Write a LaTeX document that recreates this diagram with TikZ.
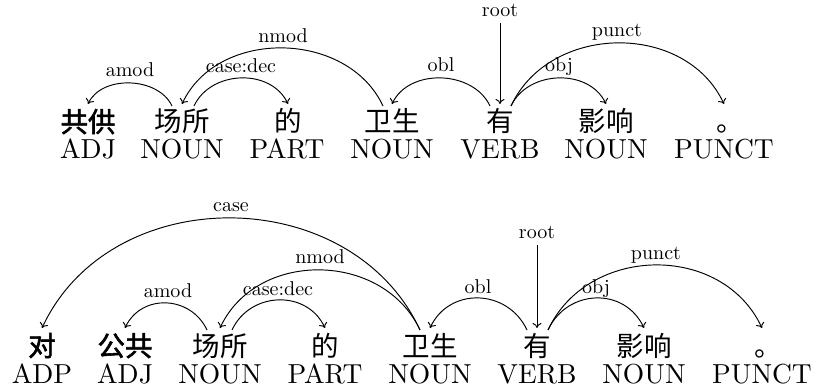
\documentclass[tikz,border=0pt]{standalone}
\usepackage{fontspec}
\setmainfont{lmroman10-regular}[Extension=.otf]
\newfontfamily\cjk{Noto Sans CJK SC}
\newfontfamily\cjkb{Noto Sans CJK SC}[FakeBold=2]
\usetikzlibrary{arrows.meta,calc}
\tikzset{
  word/.style={anchor=base, inner sep=0pt, font=\cjk\fontsize{27.5}{30}\selectfont},
  bword/.style={anchor=base, inner sep=0pt, font=\cjkb\fontsize{27.5}{30}\selectfont},
  postag/.style={anchor=base, inner sep=0pt, font=\fontsize{27.5}{30}\selectfont},
  lab/.style={anchor=base, inner sep=0pt, font=\fontsize{20}{22}\selectfont},
  dep/.style={line width=0.95pt, -{To[length=5pt,width=9pt]}},
}
\begin{document}
\begin{tikzpicture}[x=1pt,y=-1pt]
\useasboundingbox (0,0) rectangle (816,387);
% ---------- sentence 1 ----------
\node[bword] (a1) at (88,132) {共供};
\node[word]  (a2) at (182,132) {场所};
\node[word]  (a3) at (288,132) {的};
\node[word]  (a4) at (392,132) {卫生};
\node[word]  (a5) at (500,132) {有};
\node[word]  (a6) at (606,132) {影响};
\node[word]  (a7) at (730,132) {。};
\node[postag] (p1) at (88,159) {ADJ};
\node[postag] (p2) at (182,159) {NOUN};
\node[postag] (p3) at (287,159) {PART};
\node[postag] (p4) at (392,159) {NOUN};
\node[postag] (p5) at (500,159) {VERB};
\node[postag] (p6) at (606,159) {NOUN};
\node[postag] (p7) at (724,159) {PUNCT};
\coordinate (ra) at (500,23);
% amod
\draw[dep] ($(a2.base)+(-10,-26)$) .. controls +(-13.7,-29.3) and +(13.7,-29.3) .. ($(a1.base)+(0,-28)$);
\node[lab] (la1) at (130,77) {amod};
% case:dec
\draw[dep] ($(a2.base)+(12,-26)$) .. controls +(16.8,-36) and +(-16.8,-36) .. ($(a3.base)+(0,-28)$);
\node[lab] (la2) at (241,73) {case:dec};
% nmod
\draw[dep] ($(a4.base)+(-9,-26)$) .. controls +(-35.4,-76) and +(35.4,-76) .. ($(a2.base)+(0,-28)$);
\node[lab] (la3) at (283,43) {nmod};
% obl
\draw[dep] ($(a5.base)+(-10,-26)$) .. controls +(-16.8,-36) and +(16.8,-36) .. ($(a4.base)+(0,-28)$);
\node[lab] (la4) at (441,72) {obl};
% root
\draw[dep] (ra) -- ($(a5.base)+(0,-28)$);
\node[lab] (la5) at (500,17) {root};
% obj
\draw[dep] ($(a5.base)+(11,-26)$) .. controls +(16.8,-36) and +(-16.8,-36) .. ($(a6.base)+(0,-28)$);
\node[lab] (la6) at (559,72) {obj};
% punct
\draw[dep] ($(a5.base)+(11,-26)$) .. controls +(38.5,-82.7) and +(-38.5,-82.7) .. ($(a7.base)+(-6,-28)$);
\node[lab] (la7) at (617,37) {punct};
% ---------- sentence 2 ----------
\node[bword] (b1) at (42,356) {对};
\node[bword] (b2) at (125,356) {公共};
\node[word]  (b3) at (220,356) {场所};
\node[word]  (b4) at (325,356) {的};
\node[word]  (b5) at (430,356) {卫生};
\node[word]  (b6) at (537,356) {有};
\node[word]  (b7) at (644,356) {影响};
\node[word]  (b8) at (768,356) {。};
\node[postag] (q1) at (42,383) {ADP};
\node[postag] (q2) at (125,383) {ADJ};
\node[postag] (q3) at (220,383) {NOUN};
\node[postag] (q4) at (325,383) {PART};
\node[postag] (q5) at (430,383) {NOUN};
\node[postag] (q6) at (537,383) {VERB};
\node[postag] (q7) at (644,383) {NOUN};
\node[postag] (q8) at (762,383) {PUNCT};
\coordinate (rb) at (537,245);
% case
\draw[dep] ($(b5.base)+(-10,-26)$) .. controls +(-69,-148) and +(69,-148) .. ($(b1.base)+(0,-28)$);
\node[lab] (lb1) at (231,212) {case};
% nmod
\draw[dep] ($(b5.base)+(-10,-26)$) .. controls +(-36.7,-78.7) and +(36.7,-78.7) .. ($(b3.base)+(0,-28)$);
\node[lab] (lb2) at (320,264) {nmod};
% amod
\draw[dep] ($(b3.base)+(-13,-26)$) .. controls +(-16.2,-34.7) and +(16.2,-34.7) .. ($(b2.base)+(0,-28)$);
\node[lab] (lb3) at (168,297) {amod};
% case:dec
\draw[dep] ($(b3.base)+(12,-26)$) .. controls +(18,-38.7) and +(-18,-38.7) .. ($(b4.base)+(0,-28)$);
\node[lab] (lb4) at (278,295) {case:dec};
% obl
\draw[dep] ($(b6.base)+(-10,-26)$) .. controls +(-19.3,-41.3) and +(19.3,-41.3) .. ($(b5.base)+(0,-28)$);
\node[lab] (lb5) at (478,293) {obl};
% root
\draw[dep] (rb) -- ($(b6.base)+(0,-28)$);
\node[lab] (lb6) at (537,239) {root};
% obj
\draw[dep] ($(b6.base)+(11,-26)$) .. controls +(19.3,-41.3) and +(-19.3,-41.3) .. ($(b7.base)+(0,-28)$);
\node[lab] (lb7) at (596,293) {obj};
% punct
\draw[dep] ($(b6.base)+(11,-26)$) .. controls +(39.8,-85.3) and +(-39.8,-85.3) .. ($(b8.base)+(-6,-28)$);
\node[lab] (lb8) at (656,259) {punct};
\end{tikzpicture}
\end{document}
